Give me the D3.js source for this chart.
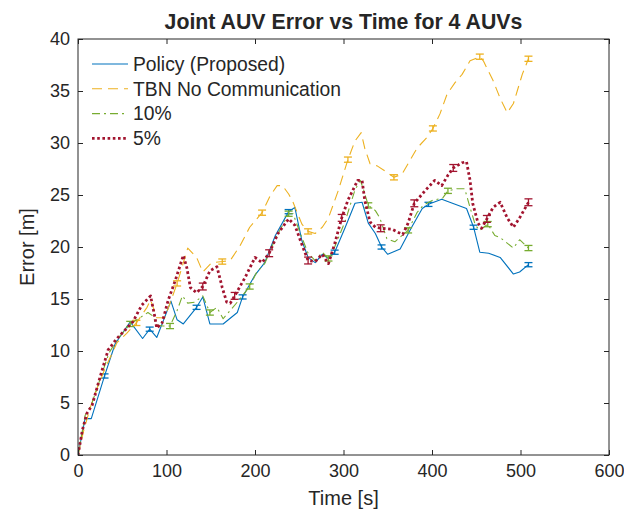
<!DOCTYPE html>
<html><head><meta charset="utf-8">
<script src="https://cdn.jsdelivr.net/npm/d3@7"></script>
<style>body{margin:0;background:#fff}svg{display:block}text{font-family:"Liberation Sans",Arial,sans-serif;fill:#262626}</style>
</head><body><div id="chart"></div>
<script>
const xTicks=[0,100,200,300,400,500,600];
const yTicks=[0,5,10,15,20,25,30,35,40];
const seriesNames=["Policy (Proposed)","TBN No Communication","10%","5%"];

const policyTime=[0,8,15,30,42,59,73,81,89,105,112,119,134,141,149,164,180,186,200,211,223,238,245,253,260,268,276,283,290,302,313,321,328,336,343,350,364,377,389,396,411,439,447,454,464,477,492,499,509];
const policyErr=[0,3.5,3.5,7.6,10.7,12.8,11.2,12.1,11.3,14.8,13.0,12.6,14.2,15.2,12.6,12.6,13.7,15.2,17.3,18.5,21.1,23.4,23.8,20.6,19.0,18.5,19.3,18.9,19.5,21.9,24.2,24.3,22.3,21.3,20.0,19.3,19.8,21.9,23.7,24.1,24.6,23.7,21.9,19.5,19.4,19.0,17.4,17.6,18.3];
const policyBarTime=[30,81,134,186,238,290,343,396,447,509];
const policyBarVal=[7.6,12.1,14.2,15.2,23.4,19.5,20.0,24.1,21.9,18.3];

const tbnTime=[0,6,14,22,30,44,55,66,78,82,89,98,104,112,124,134,141,151,163,172,183,194,200,208,217,225,231,238,243,253,260,268,276,283,294,305,313,320,324,330,338,347,357,366,375,383,394,401,409,417,426,434,443,454,458,469,477,485,492,502,509];
const tbnErr=[0,2.2,4.6,6.5,8.2,10.8,11.7,12.7,14.2,14.9,13.2,13.2,14.6,16.5,19.9,19.0,17.6,18.5,18.6,18.7,20.1,21.9,22.5,23.3,24.9,25.9,25.9,25.1,24.3,22.2,21.5,21.3,21.9,22.8,25.4,28.4,30.2,31.0,29.5,28.0,27.8,27.3,26.7,27.0,28.3,29.5,30.5,31.4,32.8,34.7,35.8,36.6,37.9,38.3,37.9,36.0,34.3,32.9,33.8,36.6,38.1];
const tbnBarTime=[66,112,163,208,260,305,357,401,454,509];
const tbnBarVal=[12.7,16.5,18.6,23.3,21.5,28.4,26.7,31.4,38.3,38.1];

const tenTime=[0,8,15,25,35,45,59,70,79,84,89,96,104,112,118,124,132,141,149,157,164,172,180,194,202,211,223,238,243,253,260,268,276,283,290,302,313,319,322,328,336,341,349,358,366,373,383,390,401,412,418,428,437,443,449,454,463,471,477,492,499,509];
const tenErr=[0,3.8,4.8,7.3,9.8,11.2,12.6,13.2,13.7,13.4,12.5,12.4,12.4,13.9,15.3,14.6,14.7,15.3,13.7,14.2,13.1,13.9,14.7,16.2,17.6,18.4,20.8,23.2,23.2,20.9,19.4,18.7,19.5,18.9,20.0,22.5,25.5,26.4,25.7,24.0,23.5,22.8,20.8,20.5,21.1,21.6,23.3,24.0,24.5,24.7,25.4,25.6,25.6,23.8,22.1,21.6,22.2,21.1,20.9,19.9,20.7,19.9];
const tenBarTime=[59,104,149,194,238,283,328,373,418,463,509];
const tenBarVal=[12.6,12.4,13.7,16.2,23.2,18.9,24.0,21.6,25.4,22.2,19.9];

const fiveTime=[0,5,10,16,25,34,44,53,62,72,82,87,89,95,102,110,119,123,127,134,141,149,157,163,168,172,177,189,200,208,216,226,238,245,254,260,268,276,283,290,298,305,316,321,324,330,336,342,355,362,367,373,380,392,403,411,418,424,434,439,443,446,452,456,462,469,477,485,492,499,509];
const fiveErr=[0,2.4,4.0,4.8,7.5,10.1,11.2,12.0,12.8,14.4,15.3,13.2,12.2,12.7,14.9,16.8,19.2,18.0,16.1,15.6,16.2,17.7,18.1,16.1,14.7,14.6,15.3,17.1,19.0,18.5,19.4,21.3,22.7,22.1,20.0,18.7,18.6,19.3,18.4,20.3,22.8,24.5,26.4,26.4,24.5,22.4,21.9,21.8,21.7,21.4,21.2,22.3,24.2,25.4,26.4,25.9,26.9,27.6,28.1,28.2,26.4,24.2,22.3,21.8,22.7,23.8,24.3,22.8,21.9,22.8,24.3];
const fiveBarTime=[141,177,216,260,298,342,380,424,462,509];
const fiveBarVal=[16.2,15.3,19.4,18.7,22.8,21.8,24.2,27.6,22.7,24.3];

const barHalf=[0.2,0.25,0.25,0.33];

const W=624,H=512,m={l:78,r:15,t:39,b:57};
const svg=d3.select("#chart").append("svg").attr("width",W).attr("height",H);
const x=d3.scaleLinear().domain([0,600]).range([m.l,W-m.r]);
const y=d3.scaleLinear().domain([0,40]).range([H-m.b,m.t]);

const styles=[
 {color:"#0072BD",w:1.1,dash:null,cap:"butt"},
 {color:"#EDB120",w:1.1,dash:"10,6",cap:"butt"},
 {color:"#77AC30",w:1.1,dash:"8,4,2,4",cap:"butt"},
 {color:"#A2142F",w:2.8,dash:"2.6,2.6",cap:"butt"}
];
const series=[
 {t:policyTime,v:policyErr,bt:policyBarTime,bv:policyBarVal},
 {t:tbnTime,v:tbnErr,bt:tbnBarTime,bv:tbnBarVal},
 {t:tenTime,v:tenErr,bt:tenBarTime,bv:tenBarVal},
 {t:fiveTime,v:fiveErr,bt:fiveBarTime,bv:fiveBarVal}
];

const clip=svg.append("clipPath").attr("id","c").append("rect")
 .attr("x",m.l).attr("y",m.t).attr("width",W-m.l-m.r).attr("height",H-m.t-m.b);
const plot=svg.append("g").attr("clip-path","url(#c)");
const line=d3.line().x(d=>x(d[0])).y(d=>y(d[1]));

series.forEach((s,i)=>{
 const st=styles[i];
 const pts=s.t.map((t,k)=>[t,s.v[k]]);
 const p=plot.append("path").datum(pts).attr("d",line).attr("fill","none")
  .attr("stroke",st.color).attr("stroke-width",st.w).attr("stroke-linecap",st.cap).attr("stroke-linejoin","round");
 if(st.dash) p.attr("stroke-dasharray",st.dash);
 const g=plot.append("g").attr("stroke",st.color).attr("stroke-width",1.3);
 s.bt.forEach((t,k)=>{
  const v=s.bv[k],h=barHalf[i],cx=x(t),cw=4;
  g.append("line").attr("x1",cx).attr("x2",cx).attr("y1",y(v-h)).attr("y2",y(v+h));
  g.append("line").attr("x1",cx-cw).attr("x2",cx+cw).attr("y1",y(v-h)).attr("y2",y(v-h));
  g.append("line").attr("x1",cx-cw).attr("x2",cx+cw).attr("y1",y(v+h)).attr("y2",y(v+h));
 });
});

// axes
const ax=svg.append("g").attr("stroke","#262626").attr("fill","none").attr("stroke-width",1);
ax.append("rect").attr("x",m.l).attr("y",m.t).attr("width",W-m.l-m.r).attr("height",H-m.t-m.b).attr("stroke","#262626");
const xb=svg.append("g").attr("transform",`translate(0,${H-m.b})`)
 .call(d3.axisBottom(x).tickValues(xTicks).tickSize(-5).tickPadding(9).tickFormat(d3.format("d")));
const xt=svg.append("g").attr("transform",`translate(0,${m.t})`)
 .call(d3.axisTop(x).tickValues(xTicks).tickSize(-5).tickFormat(""));
const yl=svg.append("g").attr("transform",`translate(${m.l},0)`)
 .call(d3.axisLeft(y).tickValues(yTicks).tickSize(-5).tickPadding(8).tickFormat(d3.format("d")));
const yr=svg.append("g").attr("transform",`translate(${W-m.r},0)`)
 .call(d3.axisRight(y).tickValues(yTicks).tickSize(-5).tickFormat(""));
[xb,xt,yl,yr].forEach(g=>{
 g.select(".domain").remove();
 g.selectAll(".tick line").attr("stroke","#262626");
 g.selectAll("text").attr("fill","#262626").style("font-size","18px").style("font-family","Liberation Sans, Arial, sans-serif");
});

svg.append("text").attr("x",(m.l+W-m.r)/2).attr("y",29).attr("text-anchor","middle")
 .style("font-size","21.3px").style("font-weight","bold").attr("fill","#000").text("Joint AUV Error vs Time for 4 AUVs");
svg.append("text").attr("x",(m.l+W-m.r)/2).attr("y",505).attr("text-anchor","middle")
 .style("font-size","20px").text("Time [s]");
svg.append("text").attr("transform",`translate(34,${(m.t+H-m.b)/2}) rotate(-90)`).attr("text-anchor","middle")
 .style("font-size","20px").text("Error [m]");

// legend
const lg=svg.append("g");
seriesNames.forEach((n,i)=>{
 const yy=64+i*24.8, st=styles[i];
 const l=lg.append("line").attr("x1",92).attr("x2",128).attr("y1",yy).attr("y2",yy)
  .attr("stroke",st.color).attr("stroke-width",st.w).attr("stroke-linecap",st.cap);
 if(st.dash) l.attr("stroke-dasharray",st.dash);
 lg.append("text").attr("x",133).attr("y",yy+6.8).style("font-size","19.3px").attr("fill","#000").text(n);
});
</script></body></html>
